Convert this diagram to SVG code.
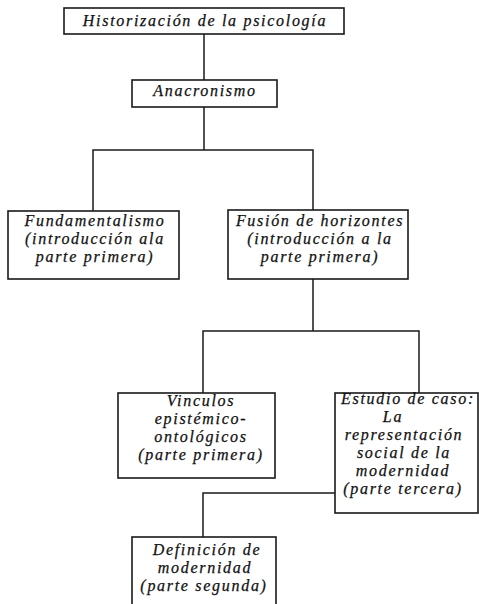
<svg xmlns="http://www.w3.org/2000/svg" width="479" height="604" viewBox="0 0 479 604">
<style>
rect{fill:#fff;stroke:#1a1a1a;stroke-width:1.6}
.c line,.c path{stroke:#1a1a1a;stroke-width:1.5;fill:none}
text{font-family:"Liberation Serif","Times New Roman",serif;font-style:italic;font-size:16px;fill:#111;stroke:#111;stroke-width:0.25;text-anchor:middle;letter-spacing:1.7px}
</style>
<rect x="0" y="0" width="479" height="604" style="stroke:none"/>
<g class="c" id="connectors">
<line x1="204" y1="34" x2="204" y2="80"/>
<path d="M204 107V150M93 211V150H313V210"/>
<path d="M313 279V331M203 393V331H419V393"/>
<path d="M335 493H203V537"/>
</g>
<g id="n1"><rect x="64" y="8" width="280" height="26"/><text x="205" y="26">Historización de la psicología</text></g>
<g id="n2"><rect x="132" y="80" width="145" height="27"/><text x="205" y="96">Anacronismo</text></g>
<g id="n3"><rect x="8" y="211" width="171" height="68"/><text x="95" y="226">Fundamentalismo</text><text x="95" y="244">(introducción ala</text><text x="95" y="262">parte  primera)</text></g>
<g id="n4"><rect x="228" y="210" width="180" height="69"/><text x="320" y="226">Fusión de horizontes</text><text x="320" y="244">(introducción a la</text><text x="320" y="262">parte primera)</text></g>
<g id="n5"><rect x="118" y="393" width="157" height="85"/><text x="201" y="406">Vinculos</text><text x="201" y="424">epistémico-</text><text x="201" y="442">ontológicos</text><text x="201" y="460">(parte primera)</text></g>
<g id="n6"><rect x="335" y="393" width="143" height="120"/><text x="408" y="404">Estudio de caso:</text><text x="393" y="422">La</text><text x="404" y="440">representación</text><text x="404" y="458">social de la</text><text x="403" y="476">modernidad</text><text x="403" y="494">(parte tercera)</text></g>
<g id="n7"><rect x="132" y="537" width="144" height="80"/><text x="207" y="555">Definición de</text><text x="205" y="573">modernidad</text><text x="204" y="591">(parte segunda)</text></g>
</svg>
